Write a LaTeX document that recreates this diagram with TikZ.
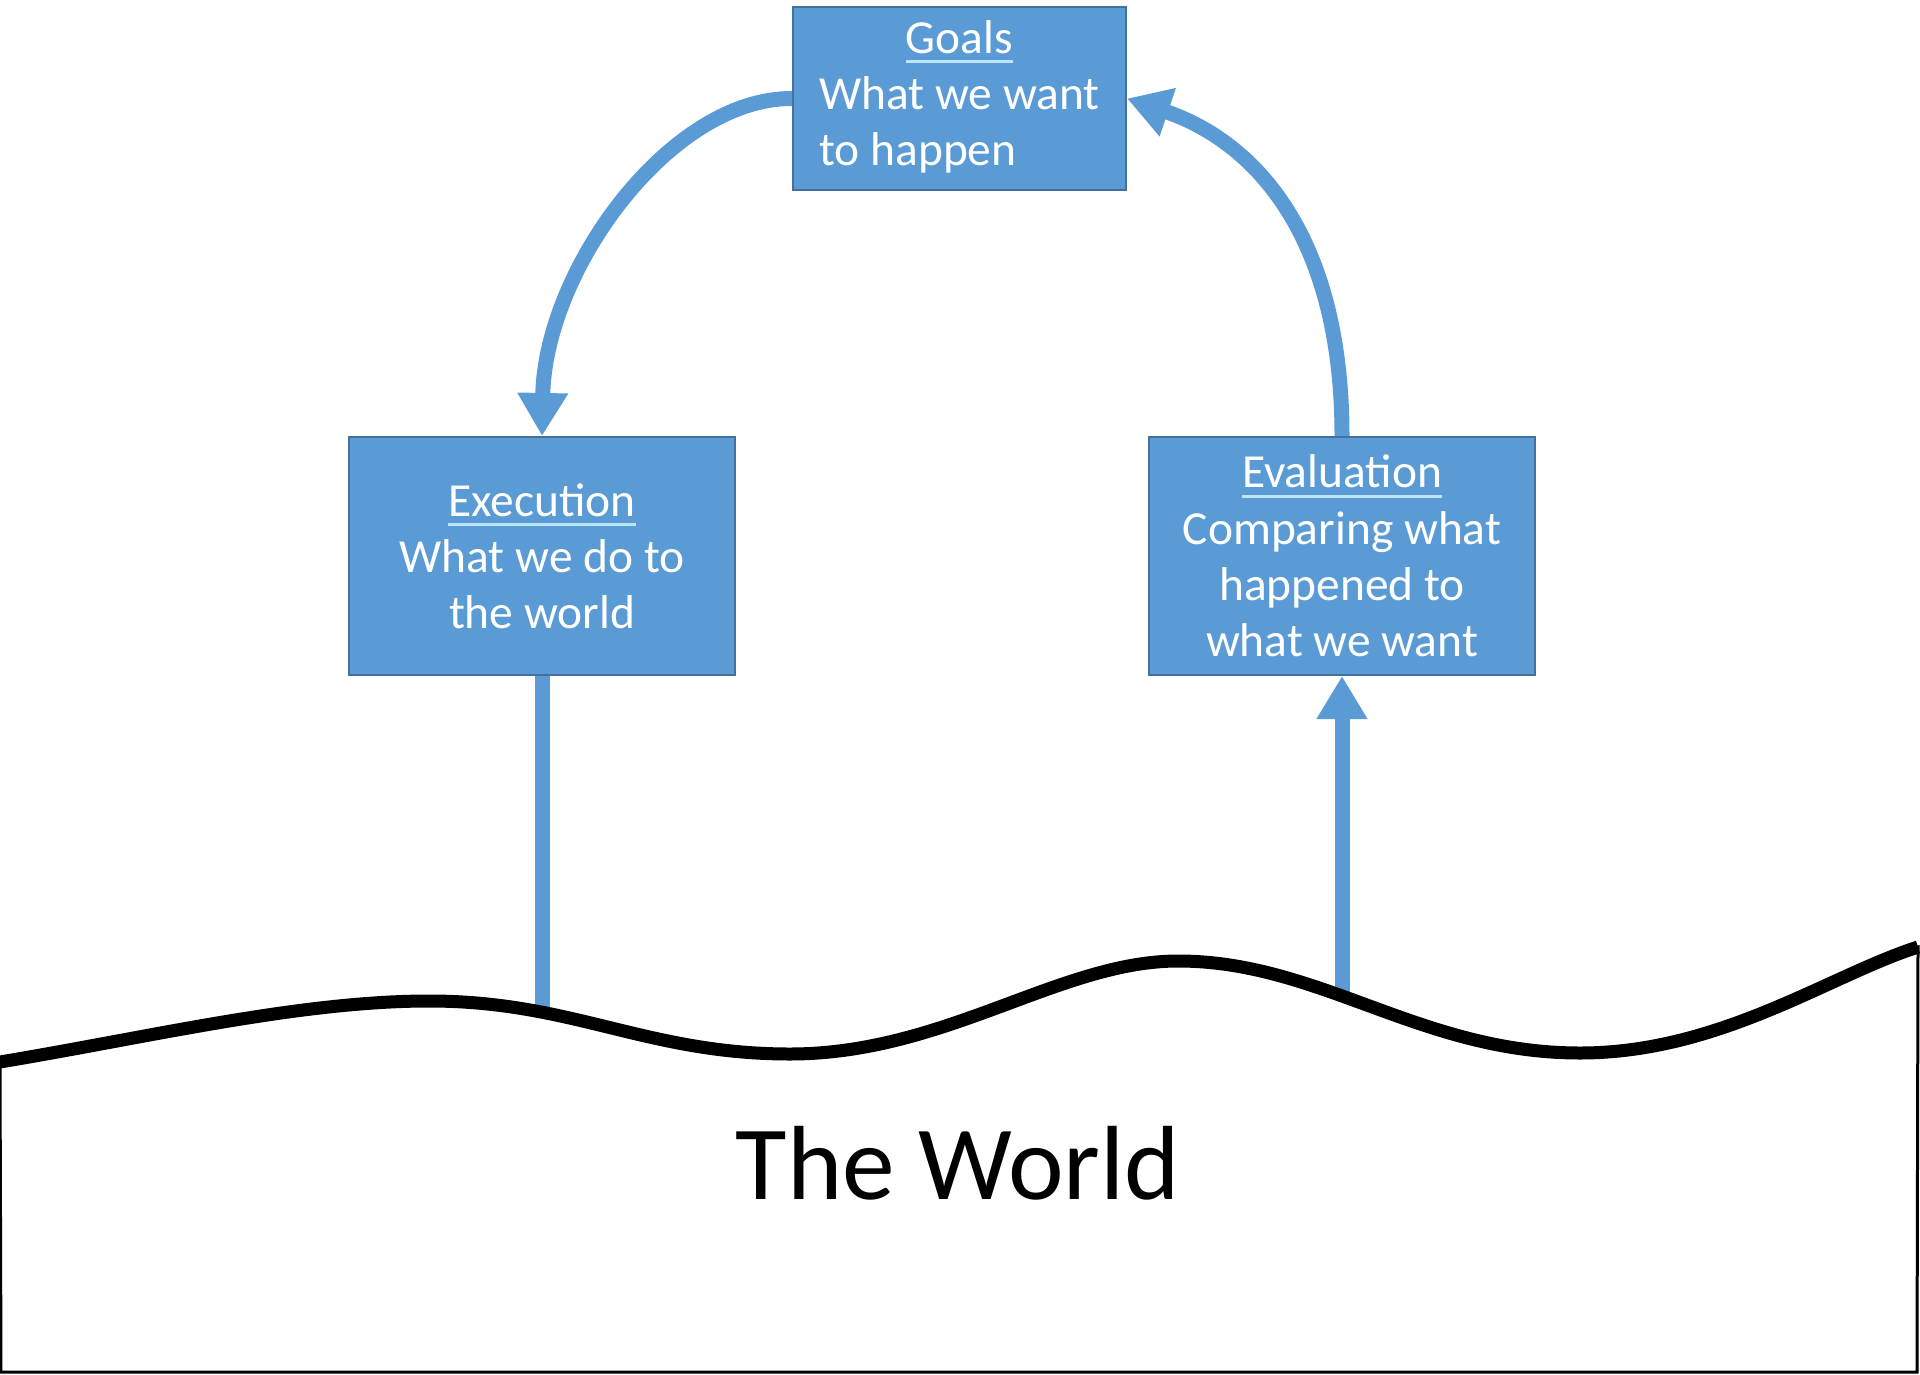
\documentclass[tikz,border=0pt]{standalone}
\usepackage{fontspec}
\setmainfont{Carlito}
\usetikzlibrary{arrows.meta}
\definecolor{stageblue}{RGB}{91,155,213}
\definecolor{stageedge}{RGB}{65,113,156}
\definecolor{titlerule}{RGB}{190,228,250}

\newcommand{\boxtitle}[1]{\setbox0=\hbox{#1}\rlap{\textcolor{titlerule}{\rule[-5.5pt]{\wd0}{1.7pt}}}\box0}
\newcommand{\groundline}{(0,1062) .. controls (150,1037) and (300,1001) .. (429,1001)
    .. controls (573,1001) and (646,1054) .. (790,1054)
    .. controls (945,1054) and (1060,961) .. (1178,961)
    .. controls (1320,961) and (1420,1053) .. (1580,1053)
    .. controls (1720,1053) and (1830,975) .. (1918,947)}

\begin{document}
\begin{tikzpicture}[x=0.02cm, y=-0.02cm,
    stagebox/.style={draw=stageedge, line width=1.2pt, fill=stageblue, text=white,
        inner sep=0pt, font=\fontsize{27}{32}\selectfont},
    flow/.style={draw=stageblue, line width=0.3cm},
    flowtip/.style={-{Triangle[width=0.96cm,length=0.86cm]}}]
    \path[use as bounding box, fill=white] (0,0) rectangle (1920,1375);

    % Stages
    \node[stagebox, minimum width=6.66cm, minimum height=3.66cm] (goals) at (959.5,98.5)
        {\begin{tabular}{@{}l@{}}\multicolumn{1}{@{}c@{}}{\boxtitle{Goals}}\\What we want\\to happen\end{tabular}};
    \node[stagebox, minimum width=7.72cm, minimum height=4.76cm, align=center] (execution) at (542,556)
        {\boxtitle{Execution}\\What we do to\\the world};
    \node[stagebox, minimum width=7.72cm, minimum height=4.76cm, align=center] (evaluation) at (1342,556)
        {\boxtitle{Evaluation}\\Comparing what\\happened to\\what we want};

    % Loop arrows
    \draw[flow, flowtip] (goals.west) .. controls (670,98) and (545,270) .. (execution.north);
    \draw[flow, flowtip] (evaluation.north) .. controls (1342,230) and (1250,140) .. (goals.east);

    % Links to the world
    \coordinate (execfoot) at (542,1040);
    \coordinate (evalfoot) at (1342,1020);
    \draw[flow] (execution.south) -- (execfoot);
    \draw[flow, flowtip] (evalfoot) -- (evaluation.south);

    % The world
    \draw[line width=0.06cm, fill=white] \groundline -- (1917,1372) -- (1,1372) -- cycle;
    \draw[line width=0.26cm] \groundline;
    \node[font=\fontsize{60}{72}\selectfont] (world) at (958,1163) {The World};
\end{tikzpicture}
\end{document}
